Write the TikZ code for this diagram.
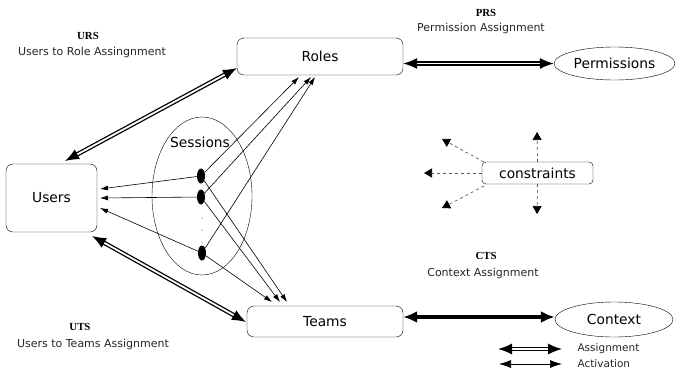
\documentclass[tikz,border=0pt]{standalone}
\usepackage{fontspec}
\setmainfont{DejaVu Sans}
\newfontfamily\abbr{Liberation Serif}
\usetikzlibrary{arrows.meta,shapes.geometric}
\begin{document}
\begin{tikzpicture}[x=1pt,y=-1pt,
  box/.style={draw,rounded corners=7pt,font=\fontsize{13.8}{15}\selectfont,inner sep=0pt},
  oval/.style={draw,ellipse,font=\fontsize{13.8}{15}\selectfont,inner sep=0pt},
  dotn/.style={ellipse,fill=black,minimum width=8pt,minimum height=15pt,inner sep=0pt},
  tinydot/.style={circle,fill=black,minimum size=1pt,inner sep=0pt},
  assign/.style={double,double distance=1.8pt,line width=1.3pt,{Latex[length=14pt,width=11pt]}-{Latex[length=14pt,width=11pt]}},
  thickarr/.style={line width=4.2pt,{Latex[length=14pt,width=12pt]}-{Latex[length=14pt,width=12pt]}},
  act/.style={line width=0.6pt,-{Latex[length=8pt,width=5pt]}},
  actboth/.style={line width=0.7pt,{Latex[length=12pt,width=8pt]}-{Latex[length=12pt,width=8pt]}},
  dasharr/.style={dashed,gray!70!black,line width=0.7pt,-{Triangle[length=8pt,width=9pt,color=black]}},
  abbrlbl/.style={font=\abbr\bfseries\fontsize{10.8}{12}\selectfont},
  desc/.style={font=\fontsize{11}{13}\selectfont,text=black!85}]
\useasboundingbox (0,0) rectangle (676,373);
% main nodes
\node[box,minimum width=91pt,minimum height=68pt] (users) at (51.5,198) {Users};
\node[box,minimum width=166pt,minimum height=37pt] (roles) at (320,56.5) {Roles};
\node[box,minimum width=156pt,minimum height=31pt] (teams) at (325,321.5) {Teams};
\node[oval,minimum width=121pt,minimum height=33pt] (perm) at (614.5,63.5) {Permissions};
\node[oval,minimum width=118pt,minimum height=35pt] (ctx) at (614,319.5) {Context};
\node[box,rounded corners=4pt,minimum width=111pt,minimum height=22pt] (cons) at (537.5,173) {constraints};
% sessions
\node[draw,ellipse,minimum width=100pt,minimum height=158pt,inner sep=0pt] (sess) at (202,196) {};
\node[font=\fontsize{13.8}{15}\selectfont] (sesslbl) at (200,142) {Sessions};
\node[dotn] (d1) at (201,176) {};
\node[dotn] (d2) at (201,197) {};
\node[dotn] (d3) at (202,253) {};
\node[tinydot] (t1) at (202,218) {};
\node[tinydot] (t2) at (202,230) {};
\node[tinydot] (t3) at (202,242) {};
% targets
\coordinate (u1) at (100,189);
\coordinate (u2) at (100,198);
\coordinate (u3) at (100,208);
\coordinate (r1) at (299,77);
\coordinate (r2) at (311,77);
\coordinate (r3) at (315,77);
\coordinate (s1) at (287,302);
\coordinate (s2) at (280,302);
\coordinate (s3) at (272,302);
% activation arrows
\draw[act] (d1) -- (u1);
\draw[act] (d2) -- (u2);
\draw[act] (d3) -- (u3);
\draw[act] (d1) -- (r1);
\draw[act] (d2) -- (r2);
\draw[act] (d3) -- (r3);
\draw[act] (d1) -- (s1);
\draw[act] (d2) -- (s2);
\draw[act] (d3) -- (s3);
% assignments
\coordinate (ua) at (65,161);
\coordinate (ra) at (237,68);
\draw[assign] (ua) -- (ra);
\coordinate (ub) at (92,236);
\coordinate (tb) at (246,322);
\draw[assign] (ub) -- (tb);
\draw[assign] (roles.east |- perm.west) -- (perm.west);
\draw[thickarr] (teams.east |- 0,317) -- (ctx.west |- 0,317);
% constraints
\coordinate (c1) at (537,132);
\coordinate (c2) at (537,214);
\coordinate (c3) at (424,173);
\coordinate (c4) at (442,139);
\coordinate (c5) at (442,208);
\draw[dasharr] (cons.north) -- (c1);
\draw[dasharr] (cons.south) -- (c2);
\draw[dasharr] (cons.west) -- (c3);
\draw[dasharr] (484,162) -- (c4);
\draw[dasharr] (484,186) -- (c5);
% labels
\node[abbrlbl] (urs) at (88,36) {URS};
\node[desc] (ursd) at (92,52) {Users to Role Assingnment};
\node[abbrlbl] (prs) at (486,13) {PRS};
\node[desc] (prsd) at (481,28) {Permission Assignment};
\node[abbrlbl] (cts) at (486,256) {CTS};
\node[desc] (ctsd) at (483,273) {Context Assignment};
\node[abbrlbl] (uts) at (80,327) {UTS};
\node[desc] (utsd) at (93,344) {Users to Teams Assignment};
% legend
\coordinate (la1) at (498,349);
\coordinate (la2) at (562,349);
\coordinate (lb1) at (499,364);
\coordinate (lb2) at (562,364);
\draw[assign] (la1) -- (la2);
\draw[actboth] (lb1) -- (lb2);
\node[desc,font=\fontsize{10.5}{12}\selectfont,anchor=west] (lga) at (574,349) {Assignment};
\node[desc,font=\fontsize{10.5}{12}\selectfont,anchor=west] (lgb) at (574,364) {Activation};
\end{tikzpicture}
\end{document}
